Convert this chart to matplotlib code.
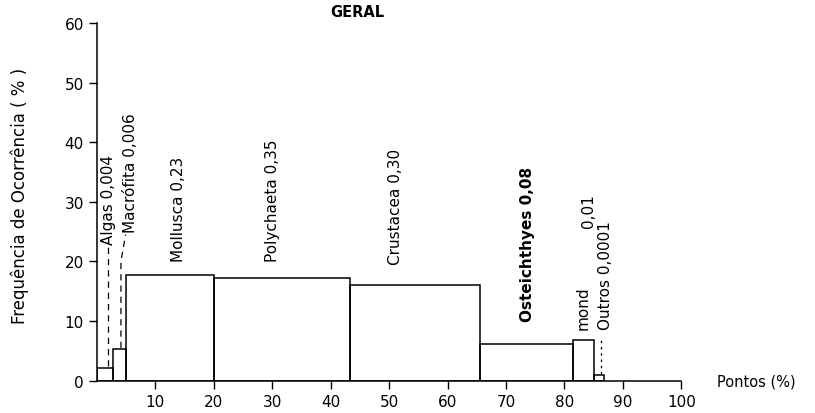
import matplotlib.pyplot as plt

# Widths (pontos %) and heights (frequencia %) of each group
groups = ["Algas", "Macrófita", "Mollusca", "Polychaeta", "Crustacea",
          "Osteichthyes", "mond", "Outros"]
pontos = [2.7, 2.3, 15.0, 23.3, 22.3, 15.9, 3.6, 1.7]
frequencia = [2.2, 5.3, 17.8, 17.2, 16.0, 6.1, 6.8, 1.0]
valores = ["0,004", "0,006", "0,23", "0,35", "0,30", "0,08", "0,01", "0,0001"]

x_ticks = [10, 20, 30, 40, 50, 60, 70, 80, 90, 100]
y_ticks = [0, 10, 20, 30, 40, 50, 60]

fig = plt.figure(figsize=(8.15, 4.14), dpi=100)
ax = fig.add_axes([0.119, 0.078, 0.717, 0.864])

# Bars as open boxes, placed side by side
left = 0
lefts = []
for w in pontos:
    lefts.append(left)
    left += w
ax.bar(lefts, frequencia, width=pontos, align="edge", fill=False,
       edgecolor="black", linewidth=1.1)

# Labels (rotated) above boxes
font = dict(rotation=90, ha="center", va="bottom", fontsize=11)
ax.text(1.9, 23, f"{groups[0]} {valores[0]}", **font)
ax.text(5.8, 25, f"{groups[1]} {valores[1]}", **font)
ax.text(13.9, 20, f"{groups[2]} {valores[2]}", **font)
ax.text(30.0, 20, f"{groups[3]} {valores[3]}", **font)
ax.text(51.0, 19.6, f"{groups[4]} {valores[4]}", **font)
ax.text(73.6, 10, f"{groups[5]} {valores[5]}", fontweight="bold", **font)
ax.text(84.1, 25.8, valores[6], **font)
ax.text(83.2, 8.7, groups[6], **font)
ax.text(87.0, 8.7, f"{groups[7]} {valores[7]}", **font)

# Leader lines from small boxes to their labels
ax.plot([1.8, 1.8], [2.4, 22.5], ls=(0, (5, 4)), color="black", lw=0.9)
ax.plot([4.1, 4.1, 4.9], [5.5, 20.0, 24.5], ls=(0, (5, 4)), color="black", lw=0.9)
ax.plot([86.2, 86.2], [1.2, 6.8], ls=(0, (2, 3)), color="black", lw=0.9)

ax.set_xlim(0, 100)
ax.set_ylim(0, 60)
ax.set_xticks(x_ticks)
ax.set_yticks(y_ticks)
ax.tick_params(axis="both", direction="out", length=6, width=1, labelsize=11)
ax.spines["top"].set_visible(False)
ax.spines["right"].set_visible(False)
ax.spines["left"].set_linewidth(1.1)
ax.spines["bottom"].set_linewidth(1.1)

fig.text(0.438, 0.971, "GERAL", ha="center", va="center", fontsize=10.5,
         fontweight="bold")
fig.text(0.024, 0.527, "Frequência de Ocorrência ( % )", rotation=90,
         ha="center", va="center", fontsize=12)
fig.text(0.88, 0.077, "Pontos (%)", ha="left", va="center", fontsize=10.5)

fig.savefig("out.png", dpi=100)
